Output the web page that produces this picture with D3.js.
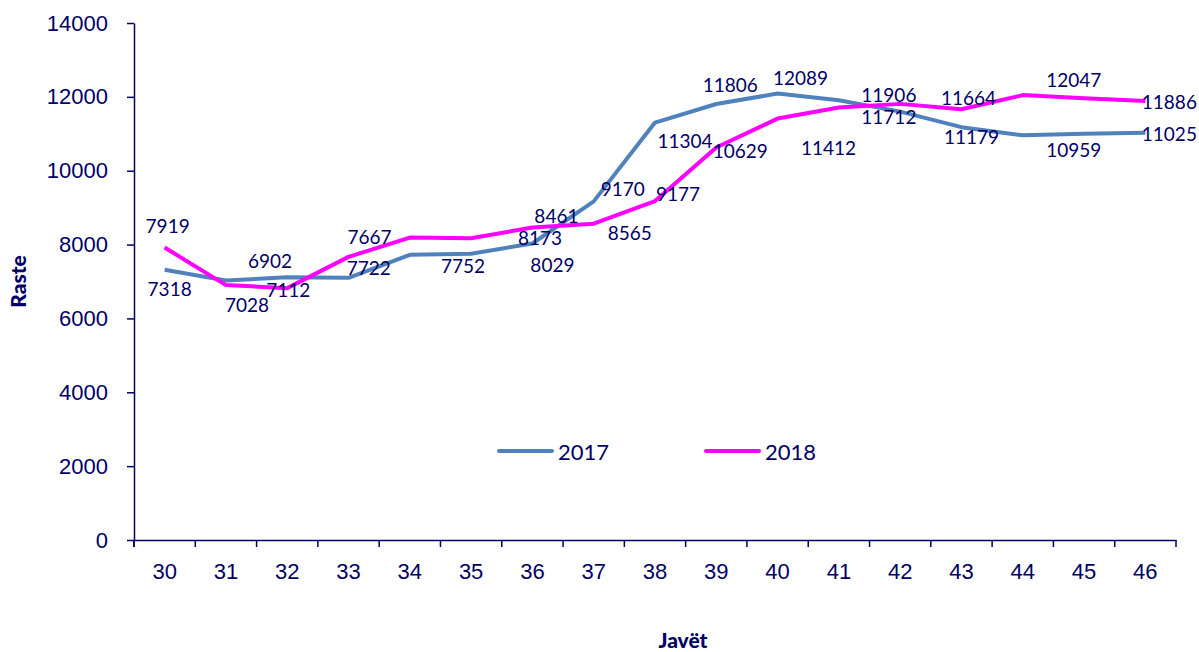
<!DOCTYPE html>
<html>
<head>
    <meta charset="utf-8">
    <style>
        body { margin: 0; background: #fff; }
        svg { font-family: Lato, 'Open Sans', sans-serif; }
        .axis .domain, .axis line { stroke: #000066; stroke-width: 1.5px; }
        .axis text { fill: #000066; font-size: 22px; }
        .lbl { fill: #000066; font-size: 19px; }
        .title { fill: #000066; font-size: 21px; font-weight: 900; }
    </style>
</head>
<body>
<svg width="1199" height="652"></svg>

<script src="https://d3js.org/d3.v7.min.js"></script>
<script>
    // data
    let weeks = ["30", "31", "32", "33", "34", "35", "36", "37", "38", "39", "40", "41", "42", "43", "44", "45", "46"]
    let cases2017 = [7318, 7028, 7112, 7100, 7722, 7752, 8029, 9170, 11304, 11806, 12089, 11906, 11600, 11179, 10959, 11000, 11025]
    let cases2018 = [7919, 6902, 6820, 7667, 8190, 8173, 8461, 8565, 9177, 10629, 11412, 11712, 11810, 11664, 12047, 11960, 11886]
    let yTicks = [0, 2000, 4000, 6000, 8000, 10000, 12000, 14000]

    // where each value label sits relative to its point (null = no label)
    let off2017 = [[5, 19], [21, 24], [1, 12], null, [-41, 13], [-8, 12], [20, 21], [29, -13], [30, 18],
        [14, -20], [23, -16], [50, -6], null, [10, 9], [51, 14], null, [24, 1]]
    let off2018 = [[3, -22], [44, -25], null, [21, -20], null, [69, -1], [24, -12], [36, 9], [23, -8],
        [24, 3], [51, 29], [50, 9], null, [7, -12], [51, -16], null, [24, 0]]

    let svg = d3.select("svg")
    let margin = { top: 23, right: 23, bottom: 112, left: 134 }
    let width = 1199, height = 652

    let x = d3.scaleBand()
        .domain(weeks)
        .range([margin.left, width - margin.right])
        .padding(0)

    let y = d3.scaleLinear()
        .domain([0, 14000])
        .range([height - margin.bottom, margin.top])

    let cx = w => x(w) + x.bandwidth() / 2

    // y axis
    svg.append("g")
        .attr("class", "y axis")
        .attr("transform", `translate(${margin.left},0)`)
        .call(d3.axisLeft(y).tickValues(yTicks).tickSize(7).tickSizeOuter(0).tickPadding(19).tickFormat(d3.format("d")))
    svg.append("line")
        .attr("x1", margin.left).attr("x2", margin.left)
        .attr("y1", y(0)).attr("y2", y(0) + 7)
        .style("stroke", "#000066").style("stroke-width", "1.5px")

    // x axis
    let xAxis = svg.append("g")
        .attr("class", "x axis")
        .attr("transform", `translate(0,${y(0)})`)
        .call(d3.axisBottom(x).tickSize(0).tickPadding(28))
    xAxis.selectAll(".tick text").attr("dy", "0.5em")
    let bounds = weeks.map(w => x(w)).concat([x.range()[1]])
    xAxis.selectAll(".bt")
        .data(bounds)
        .join("line")
        .attr("class", "bt")
        .attr("x1", d => d).attr("x2", d => d)
        .attr("y1", 0).attr("y2", 7)

    // axis titles
    svg.append("text")
        .attr("class", "title")
        .attr("transform", `translate(26,${(y(0) + y(14000)) / 2}) rotate(-90)`)
        .attr("text-anchor", "middle")
        .text("Raste")
    svg.append("text")
        .attr("class", "title")
        .attr("x", 683).attr("y", 648)
        .attr("text-anchor", "middle")
        .text("Javët")

    let line = d3.line()
        .x((d, i) => cx(weeks[i]))
        .y(d => y(d))

    let series = [
        { name: "2017", values: cases2017, offs: off2017, color: "#4f81bd" },
        { name: "2018", values: cases2018, offs: off2018, color: "#ff00ff" }
    ]

    svg.append("g")
        .selectAll("path")
        .data(series)
        .join("path")
        .attr("d", d => line(d.values))
        .style("fill", "none")
        .style("stroke", d => d.color)
        .style("stroke-width", "4px")
        .style("stroke-linejoin", "round")

    // value labels
    series.forEach(s => {
        let pts = s.values.map((v, i) => ({ v: v, w: weeks[i], o: s.offs[i] })).filter(p => p.o)
        svg.append("g")
            .selectAll("text")
            .data(pts)
            .join("text")
            .attr("class", "lbl")
            .attr("x", p => cx(p.w) + p.o[0])
            .attr("y", p => y(p.v) + p.o[1])
            .attr("text-anchor", "middle")
            .attr("dominant-baseline", "central")
            .text(p => p.v)
    })

    // legend
    let legend = svg.append("g")
        .selectAll("g")
        .data(series)
        .join("g")
        .attr("transform", (d, i) => `translate(${499 + i * 207},451)`)
    legend.append("line")
        .attr("x1", 0).attr("x2", 53)
        .style("stroke", d => d.color)
        .style("stroke-width", "4px")
        .style("stroke-linecap", "round")
    legend.append("text")
        .attr("x", 59)
        .attr("dominant-baseline", "central")
        .style("font-size", "22px").style("fill", "#000066")
        .text(d => d.name)
</script>
</body>
</html>
